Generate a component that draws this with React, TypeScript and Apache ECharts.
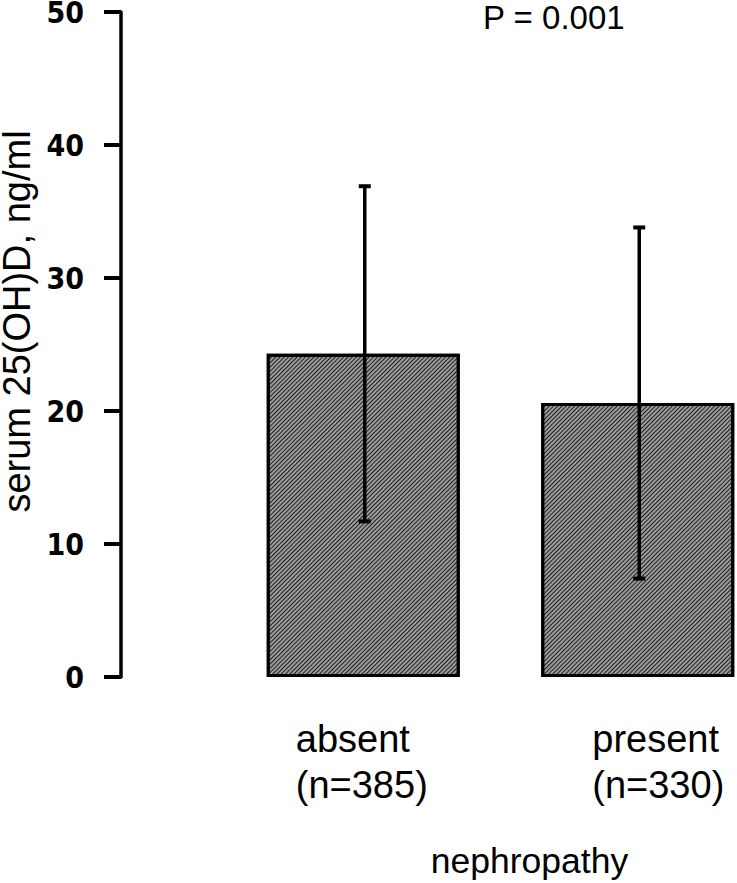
import React, { useEffect, useRef } from "react";
import * as echarts from "echarts";

const categories = ["absent", "present"];
const sampleSizes = ["n=385", "n=330"];
const means = [24.3, 20.6];
const errLow = [11.7, 7.4];
const errHigh = [36.9, 33.8];
const yTicks = [0, 10, 20, 30, 40, 50];
const pValueText = "P = 0.001";
const xAxisTitle = "nephropathy";
const yAxisTitle = "serum 25(OH)D, ng/ml";

export default function App() {
  const ref = useRef<HTMLDivElement>(null);
  useEffect(() => {
    document.body.style.margin = "0";
    const chart = echarts.init(ref.current!, null, { renderer: "svg" });
    const errData = categories.map((_, i) => [i, errLow[i], errHigh[i]]);
    const labelFont = "'Liberation Sans', Arial, sans-serif";
    chart.setOption({
      animation: false,
      title: {
        text: pValueText,
        left: 483,
        top: 1,
        padding: 0,
        textStyle: { fontFamily: labelFont, fontSize: 33, fontWeight: "normal", color: "#000", lineHeight: 32 },
      },
      grid: { left: 226, right: -38, top: 12, bottom: 206, containLabel: false, outerBoundsMode: "none" },
      xAxis: {
        type: "category",
        data: categories,
        axisLine: { show: false },
        axisTick: { show: false },
        splitLine: { show: false },
        axisLabel: {
          interval: 0,
          margin: 39,
          formatter: (v: string) => {
            const i = categories.indexOf(v);
            const st = i === 0 ? "a" : "b";
            return `{${st}|${v}}\n{${st}|(${sampleSizes[i]})}`;
          },
          rich: {
            a: { fontFamily: labelFont, fontSize: 38, lineHeight: 46, color: "#000", width: 135, align: "left" },
            b: { fontFamily: labelFont, fontSize: 38, lineHeight: 46, color: "#000", width: 131, align: "left", padding: [0, 0, 0, 40] },
          },
        },
        name: xAxisTitle,
        nameLocation: "middle",
        nameGap: 167,
        nameTextStyle: { fontFamily: labelFont, fontSize: 35.5, lineHeight: 34, color: "#000", padding: [0, 0, 0, 58] },
      },
      yAxis: {
        type: "value",
        min: 0,
        max: 50,
        interval: 10,
        offset: 105,
        axisLine: { show: true, lineStyle: { color: "#000", width: 3.5 } },
        axisTick: { show: true, length: 17, lineStyle: { color: "#000", width: 4 } },
        splitLine: { show: false },
        axisLabel: {
          margin: 37,
          formatter: (v: number) => (yTicks.includes(v) ? String(v) : ""),
          fontFamily: "'Liberation Sans Narrow', 'Arial Narrow', 'DejaVu Sans Condensed', sans-serif",
          fontWeight: "bold",
          fontSize: 30,
          lineHeight: 24,
          color: "#000",
        },
        name: yAxisTitle,
        nameLocation: "middle",
        nameGap: 72,
        nameRotate: 90,
        nameTextStyle: { fontFamily: labelFont, fontSize: 38, lineHeight: 38, color: "#000", padding: [0, 0, 0, 46] },
      },
      series: [
        {
          type: "bar",
          data: means,
          barWidth: 193,
          itemStyle: {
            color: "#9c9c9c",
            borderColor: "#000",
            borderWidth: 3,
            decal: {
              symbol: "rect",
              color: "#1e1e1e",
              dashArrayX: [1, 0],
              dashArrayY: [1, 2],
              rotation: -Math.PI / 4,
            },
          },
          z: 2,
        },
        {
          type: "custom",
          data: errData,
          z: 5,
          renderItem: (params: any, api: any) => {
            const x = api.value(0);
            const lo = api.coord([x, api.value(1)]);
            const hi = api.coord([x, api.value(2)]);
            const cx = lo[0] + 1.5;
            return {
              type: "group",
              children: [
                { type: "line", shape: { x1: cx, y1: lo[1], x2: cx, y2: hi[1] }, style: { stroke: "#000", lineWidth: 3.5 } },
                { type: "rect", shape: { x: cx - 6, y: hi[1] - 2, width: 12, height: 4 }, style: { fill: "#000" } },
                { type: "rect", shape: { x: cx - 6, y: lo[1] - 2, width: 12, height: 4 }, style: { fill: "#000" } },
              ],
            };
          },
        },
      ],
    });
    return () => chart.dispose();
  }, []);
  return <div ref={ref} style={{ width: 737, height: 883 }} />;
}
